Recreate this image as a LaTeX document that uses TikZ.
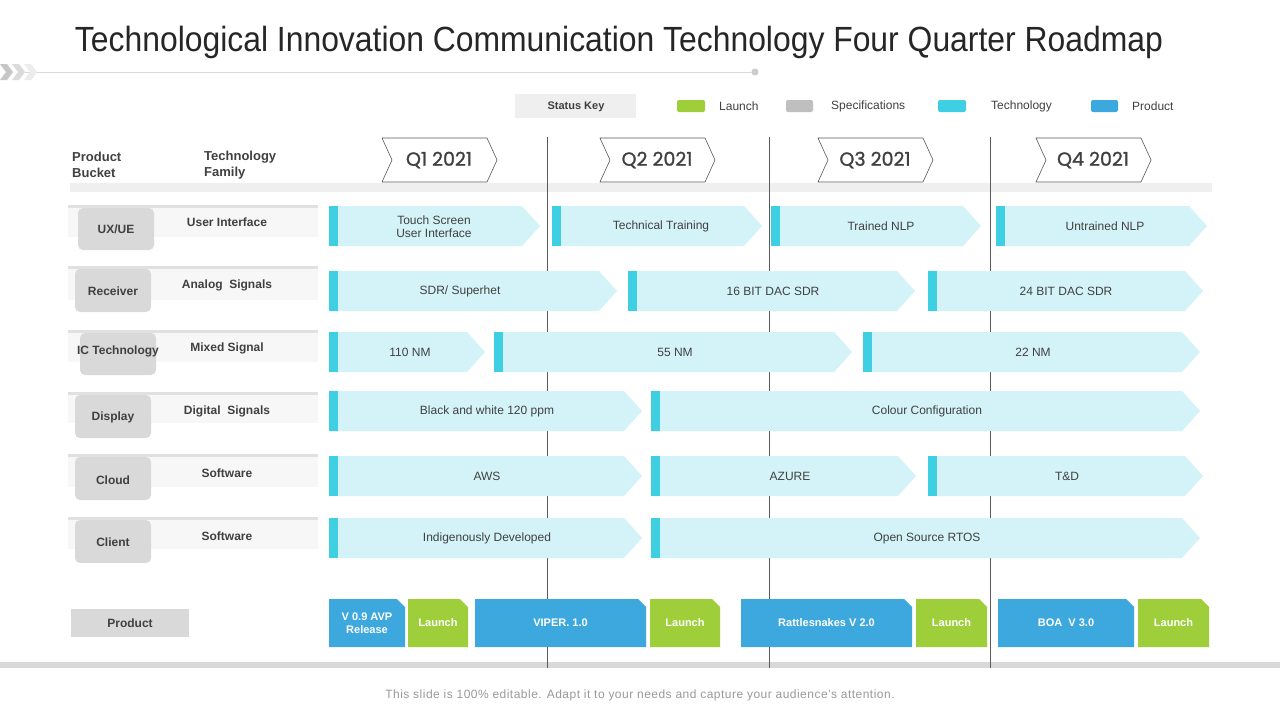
\documentclass[tikz,border=0pt]{standalone}
\usepackage{fontspec}
\setmainfont{Liberation Sans}
\newfontfamily\qfont[FakeBold=1.2]{Poppins}
\usepackage{graphicx}
\definecolor{cyanD}{HTML}{3ECFE2}
\definecolor{cyanL}{HTML}{D3F3F8}
\definecolor{blueP}{HTML}{3DA8DD}
\definecolor{greenL}{HTML}{9ECF3B}
\definecolor{grayS}{HTML}{BFBFBF}
\definecolor{bandG}{HTML}{EFEFEF}
\definecolor{boxG}{HTML}{D9D9D9}
\definecolor{txtD}{HTML}{404040}
\definecolor{barL}{HTML}{F7F7F7}
\definecolor{shadowG}{HTML}{E0E0E0}
\definecolor{lineD}{HTML}{5A5A5A}
\tikzset{
  techtxt/.style={text=txtD, font=\fontsize{12}{13}\selectfont, align=center, inner sep=0pt},
  prodtxt/.style={text=white, font=\bfseries\fontsize{11}{12.5}\selectfont, align=center, inner sep=0pt},
  hdrtxt/.style={text=txtD, font=\bfseries\fontsize{13}{16}\selectfont, align=left, anchor=west, inner sep=0pt},
  lbltxt/.style={text=txtD, font=\bfseries\fontsize{12}{13}\selectfont, inner sep=0pt},
  legtxt/.style={text=txtD, font=\fontsize{12}{13}\selectfont, anchor=west, inner sep=0pt},
  qtxt/.style={text=txtD, font=\qfont\fontsize{19}{21}\selectfont, inner sep=0pt},
  vline/.style={draw=lineD, line width=0.9pt},
}
\newcommand\techarrow[6]{%
  \fill[cyanL] (#2,{#4-20}) -- ({#3-18},{#4-20}) -- (#3,#4) -- ({#3-18},{#4+20}) -- (#2,{#4+20}) -- cycle;
  \fill[cyanD] (#2,{#4-20}) rectangle ({#2+9},{#4+20});
  \node[techtxt] (#1) at (#5,{#4+0.5}) {#6};}
\newcommand\prodblock[5]{%
  \fill[#4] (#2,599) -- ({#3-8},599) -- (#3,607) -- (#3,647) -- (#2,647) -- cycle;
  \node[prodtxt] (#1) at ({(#2+#3)/2},623) {#5};}
\newcommand\qchev[3]{%
  \draw[draw=gray!70!black, line width=0.6pt, fill=white] (#2,138) -- ({#2+105},138) -- ({#2+115},160) -- ({#2+105},182) -- (#2,182) -- ({#2+10},160) -- cycle;
  \node[qtxt] (#1) at ({#2+57},160) {#3};}
\newcommand\lrow[9]{%
  \fill[barL] (68,#2) rectangle (318,#3);
  \fill[shadowG] (68,{#2-2}) rectangle (318,{#2+1});
  \fill[boxG, rounded corners=5pt] (#4,{#2+1}) rectangle ({#4+76},#5);
  \node[lbltxt] (#1) at ({#4+38},#7) {#6};
  \node[lbltxt] (#1f) at (227,#9) {#8};}
\begin{document}
\begin{tikzpicture}[x=1pt,y=-1pt]
\useasboundingbox (0,0) rectangle (1280,720);
\fill[white] (0,0) rectangle (1280,720);
% title
\node[text=black!85, inner sep=0pt] (title) at (619,42) {\resizebox{1088pt}{\height}{\fontsize{35}{40}\selectfont Technological Innovation Communication Technology Four Quarter Roadmap}};
\draw[draw=boxG, line width=1pt] (25,72) -- (755,72);
\fill[gray!40] (755,72) circle (3.5);
\foreach \x/\c in {0/gray!45, 12/gray!28, 24/gray!15} {
  \fill[\c] (\x,64) -- ({\x+7},64) -- ({\x+13},72) -- ({\x+7},80) -- (\x,80) -- ({\x+6},72) -- cycle;
}
% status key
\fill[bandG] (515,94) rectangle (636,118);
\node[text=txtD, font=\bfseries\fontsize{11}{12}\selectfont, inner sep=0pt] (skey) at (576,107) {Status Key};
\fill[greenL, rounded corners=2pt] (677,100) rectangle (705,112);
\node[legtxt] (lg1) at (719,106) {Launch};
\fill[grayS, rounded corners=2pt] (786,100) rectangle (813,112);
\node[legtxt] (lg2) at (831,106) {Specifications};
\fill[cyanD, rounded corners=2pt] (938,100) rectangle (966,112);
\node[legtxt] (lg3) at (991,106) {Technology};
\fill[blueP, rounded corners=2pt] (1091,100) rectangle (1118,112);
\node[legtxt] (lg4) at (1132,106) {Product};
% header
\node[hdrtxt] (hb) at (72,165) {Product\\Bucket};
\node[hdrtxt] (hf) at (204,165) {Technology\\Family};
% bands
\fill[bandG] (70,183) rectangle (1212,192);
\fill[boxG] (0,662) rectangle (1280,668);
% vertical lines
\draw[vline] (547,137) -- (547,668);
\draw[vline] (769,137) -- (769,668);
\draw[vline] (990,137) -- (990,668);
% quarters
\qchev{q1}{382}{Q1 2021}
\qchev{q2}{600}{Q2 2021}
\qchev{q3}{818}{Q3 2021}
\qchev{q4}{1036}{Q4 2021}
% left rows
\lrow{r1}{207}{237}{78}{250}{UX/UE}{229}{User Interface}{222}
\lrow{r2}{268}{300}{75}{312}{Receiver}{291}{Analog\ \ Signals}{285}
\lrow{r3}{332}{362}{80}{375}{IC Technology}{351}{Mixed Signal}{348}
\lrow{r4}{394}{423}{75}{438}{Display}{417}{Digital\ \ Signals}{411}
\lrow{r5}{456}{487}{75}{500}{Cloud}{480}{Software}{473}
\lrow{r6}{519}{549}{75}{563}{Client}{542}{Software}{536}
% technology arrows
\techarrow{a11}{329}{540}{226}{434}{Touch Screen\\User Interface}
\techarrow{a12}{552}{762}{226}{661}{Technical Training}
\techarrow{a13}{771}{981}{226}{881}{Trained NLP}
\techarrow{a14}{996}{1207}{226}{1105}{Untrained NLP}
\techarrow{a21}{329}{617}{291}{460}{SDR/ Superhet}
\techarrow{a22}{628}{915}{291}{773}{16 BIT DAC SDR}
\techarrow{a23}{928}{1203}{291}{1066}{24 BIT DAC SDR}
\techarrow{a31}{329}{485}{352}{410}{110 NM}
\techarrow{a32}{494}{852}{352}{675}{55 NM}
\techarrow{a33}{863}{1200}{352}{1033}{22 NM}
\techarrow{a41}{329}{642}{411}{487}{Black and white 120 ppm}
\techarrow{a42}{651}{1200}{411}{927}{Colour Configuration}
\techarrow{a51}{329}{642}{476}{487}{AWS}
\techarrow{a52}{651}{916}{476}{790}{AZURE}
\techarrow{a53}{928}{1203}{476}{1067}{T\&D}
\techarrow{a61}{329}{642}{538}{487}{Indigenously Developed}
\techarrow{a62}{651}{1200}{538}{927}{Open Source RTOS}
% product row
\fill[boxG] (71,609) rectangle (189,637);
\node[lbltxt] (prod) at (130,623) {Product};
\prodblock{p1}{329}{405}{blueP}{V 0.9 AVP\\Release}
\prodblock{l1}{408}{468}{greenL}{Launch}
\prodblock{p2}{475}{646}{blueP}{VIPER. 1.0}
\prodblock{l2}{650}{720}{greenL}{Launch}
\prodblock{p3}{741}{912}{blueP}{Rattlesnakes V 2.0}
\prodblock{l3}{916}{987}{greenL}{Launch}
\prodblock{p4}{998}{1134}{blueP}{BOA\ \ V 3.0}
\prodblock{l4}{1138}{1209}{greenL}{Launch}
% footer
\node[text=gray!80, font=\fontsize{12}{13}\selectfont\addfontfeature{LetterSpace=4}, inner sep=0pt] (foot) at (640,695) {This slide is 100\% editable. Adapt it to your needs and capture your audience’s attention.};
\end{tikzpicture}
\end{document}
